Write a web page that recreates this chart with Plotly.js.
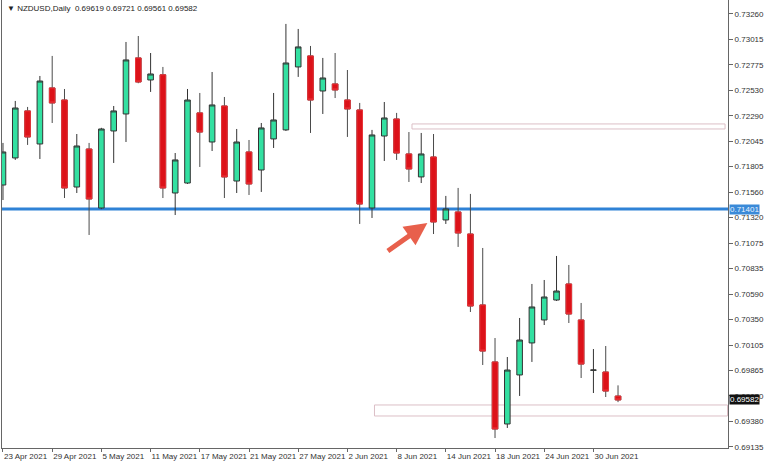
<!DOCTYPE html>
<html>
<head>
<meta charset="utf-8">
<script src="https://cdn.plot.ly/plotly-3.0.1.min.js"></script>
<style>html,body{margin:0;padding:0;background:#fff;}#chart{width:768px;height:465px;}</style>
</head>
<body>
<div id="chart"></div>
<script>
const dates = ["23 Apr 2021","26 Apr 2021","27 Apr 2021","28 Apr 2021","29 Apr 2021","30 Apr 2021",
"3 May 2021","4 May 2021","5 May 2021","6 May 2021","7 May 2021","10 May 2021","11 May 2021","12 May 2021","13 May 2021","14 May 2021",
"17 May 2021","18 May 2021","19 May 2021","20 May 2021","21 May 2021","24 May 2021","25 May 2021","26 May 2021","27 May 2021","28 May 2021","31 May 2021",
"1 Jun 2021","2 Jun 2021","3 Jun 2021","4 Jun 2021","7 Jun 2021","8 Jun 2021","9 Jun 2021","10 Jun 2021","11 Jun 2021","14 Jun 2021","15 Jun 2021",
"16 Jun 2021","17 Jun 2021","18 Jun 2021","21 Jun 2021","22 Jun 2021","23 Jun 2021","24 Jun 2021","25 Jun 2021","28 Jun 2021","29 Jun 2021","30 Jun 2021",
"1 Jul 2021","2 Jul 2021"];
const openP = [0.71630,0.71888,0.72336,0.72021,0.72555,0.72440,0.71611,0.71973,0.71411,0.72145,0.72307,0.72841,0.72631,0.72680,0.71554,0.71649,
0.72317,0.72040,0.72383,0.71668,0.71945,0.71773,0.72069,0.72155,0.72755,0.72860,0.72526,0.72593,0.72440,0.72345,0.71411,0.72097,0.72259,0.71926,
0.71707,0.71897,0.71297,0.71373,0.71163,0.70487,0.69944,0.69353,0.69820,0.70125,0.70344,0.70534,0.70687,0.70344,0.69865,0.69848,0.69619];
const highP = [0.72031,0.72431,0.72374,0.72669,0.72860,0.72545,0.72116,0.72031,0.72175,0.72383,0.72993,0.73050,0.72888,0.72755,0.71935,0.72545,
0.72507,0.72707,0.72469,0.72164,0.72059,0.72221,0.72507,0.73165,0.73117,0.72955,0.72841,0.72888,0.72726,0.72412,0.72155,0.72421,0.72317,0.72135,
0.72126,0.72116,0.71526,0.71602,0.71545,0.71030,0.70172,0.69991,0.70363,0.70687,0.70725,0.70954,0.70868,0.70506,0.70067,0.70096,0.69721];
const lowP = [0.71487,0.71869,0.72012,0.71878,0.72221,0.71506,0.71554,0.71154,0.71400,0.71840,0.72040,0.72600,0.72517,0.71506,0.71344,0.71640,
0.71802,0.71954,0.71506,0.71554,0.71535,0.71564,0.71983,0.72145,0.72660,0.72126,0.72307,0.72459,0.72088,0.71259,0.71316,0.71859,0.71869,0.71659,
0.71649,0.71163,0.71259,0.71040,0.70420,0.69915,0.69219,0.69315,0.69620,0.69944,0.70296,0.70525,0.70315,0.69791,0.69648,0.69610,0.69561];
const closeP = [0.71945,0.72364,0.72088,0.72621,0.72412,0.71602,0.72002,0.71497,0.72164,0.72336,0.72822,0.72612,0.72688,0.71602,0.71869,0.72440,
0.72135,0.72393,0.71707,0.72040,0.71640,0.72174,0.72250,0.72793,0.72946,0.72440,0.72650,0.72536,0.72355,0.71449,0.72107,0.72269,0.71935,0.71783,
0.71926,0.71278,0.71402,0.71173,0.70477,0.70048,0.69305,0.69867,0.70153,0.70468,0.70563,0.70620,0.70401,0.69924,0.69867,0.69667,0.69582];

const xTickDates = ["23 Apr 2021","29 Apr 2021","5 May 2021","11 May 2021","17 May 2021","21 May 2021","27 May 2021","2 Jun 2021","8 Jun 2021","14 Jun 2021","18 Jun 2021","24 Jun 2021","30 Jun 2021"];
const yTicks = [0.73260,0.73015,0.72775,0.72530,0.72290,0.72045,0.71805,0.71560,0.71320,0.71075,0.70835,0.70590,0.70350,0.70105,0.69865,0.69620,0.69380,0.69135];
const levelPrice = 0.71401;
const lastPrice = 0.69582;
const zoneUpper = [0.72164, 0.72212];
const zoneLower = [0.69429, 0.69534];
const zoneUpperStart = 33.25, zoneLowerStart = 30.2;
const header = "\u25BC NZDUSD,Daily  0.69619 0.69721 0.69561 0.69582";

// decreasing bodies overlay (built from the arrays above)
const dn = dates.map((d,i)=>i).filter(i=>closeP[i] < openP[i]);
const dnX = dn.map(i=>dates[i]);
const dnO = dn.map(i=>openP[i]);
const dnC = dn.map(i=>closeP[i]);

const GREEN = '#33e0a1', RED = '#dc1219', WICK = '#4a4a4a';

const traces = [
  {
    type:'candlestick', x:dates, open:openP, high:highP, low:lowP, close:closeP,
    increasing:{line:{color:'#333333', width:1}, fillcolor:GREEN},
    decreasing:{line:{color:WICK, width:1}, fillcolor:RED},
    whiskerwidth:0, showlegend:false, hoverinfo:'skip'
  },
  {
    type:'candlestick', x:dnX, open:dnO, high:dnO, low:dnC, close:dnC,
    increasing:{line:{color:'#e8353a', width:1}, fillcolor:RED},
    decreasing:{line:{color:'#e8353a', width:1}, fillcolor:RED},
    whiskerwidth:0, showlegend:false, hoverinfo:'skip'
  }
];

const layout = {
  width:768, height:465,
  margin:{l:2, r:40, t:0, b:17},
  paper_bgcolor:'#ffffff', plot_bgcolor:'#ffffff',
  font:{family:'Liberation Sans, Arial, sans-serif', size:8, color:'#333'},
  showlegend:false, hovermode:false,
  boxgap:0.35,
  xaxis:{
    type:'category', range:[-0.08, 58.94], rangeslider:{visible:false},
    tickmode:'array', tickvals:xTickDates, ticktext:xTickDates, tickangle:0,
    ticks:'outside', ticklen:3, tickcolor:'#666', ticklabelposition:'outside right',
    showline:true, linecolor:'#666', linewidth:1, showgrid:false, zeroline:false,
    tickfont:{size:8, color:'#333'}, fixedrange:true, automargin:false
  },
  yaxis:{
    side:'right', range:[0.69124, 0.73393],
    tickmode:'array', tickvals:yTicks, ticktext:yTicks.map(v=>v.toFixed(5)),
    ticks:'outside', ticklen:4, tickcolor:'#666',
    showline:true, linecolor:'#666', linewidth:1, mirror:true,
    showgrid:false, zeroline:false, tickfont:{size:8, color:'#333'}, fixedrange:true, automargin:false
  },
  shapes:[
    {type:'rect', layer:'below', xref:'x', yref:'y', x0:zoneUpperStart, x1:58.7, y0:zoneUpper[0], y1:zoneUpper[1],
     line:{color:'#dcbfc6', width:1}, fillcolor:'rgba(255,255,255,0)'},
    {type:'rect', layer:'below', xref:'x', yref:'y', x0:zoneLowerStart, x1:58.9, y0:zoneLower[0], y1:zoneLower[1],
     line:{color:'#dcbfc6', width:1}, fillcolor:'rgba(255,255,255,0)'},
    {type:'line', layer:'below', xref:'paper', yref:'y', x0:0, x1:1, y0:levelPrice, y1:levelPrice,
     line:{color:'#2f82d6', width:3}}
  ],
  annotations:[
    {xref:'paper', yref:'paper', x:0.004, y:0.995, xanchor:'left', yanchor:'top', showarrow:false,
     text:header, font:{size:8, color:'#222'}},
    {xref:'paper', yref:'y', x:1, y:levelPrice, xanchor:'left', yanchor:'middle', showarrow:false,
     text:levelPrice.toFixed(5), bgcolor:'#3a8ad8', font:{size:8, color:'#e8f2ff'}, borderpad:0, xshift:1},
    {xref:'paper', yref:'y', x:1, y:lastPrice, xanchor:'left', yanchor:'middle', showarrow:false,
     text:lastPrice.toFixed(5), bgcolor:'#111111', font:{size:8, color:'#ffffff'}, borderpad:0, xshift:1},
    {xref:'x', yref:'y', x:34.5, y:0.71268, ax:-41, ay:29, text:'', showarrow:true,
     arrowhead:2, arrowsize:0.9, arrowwidth:5, arrowcolor:'#e8604c', standoff:0}
  ]
};

Plotly.newPlot('chart', traces, layout, {displayModeBar:false, staticPlot:true});
</script>
</body>
</html>
